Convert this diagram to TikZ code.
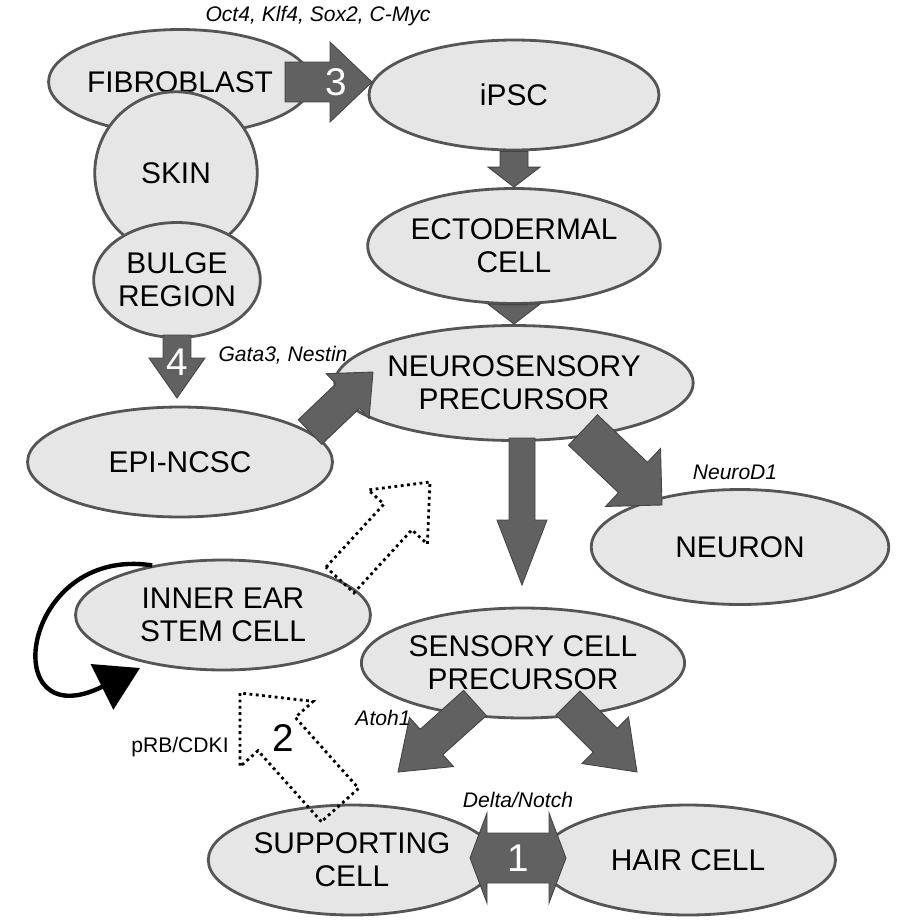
\documentclass[tikz,border=0pt]{standalone}
\usepackage{fontspec}
\setmainfont{Liberation Sans}
\usetikzlibrary{shapes.geometric}
\usetikzlibrary{calc}
\usetikzlibrary{arrows.meta}

\definecolor{cellfill}{HTML}{E6E6E6}
\definecolor{cellline}{HTML}{555555}
\definecolor{arrowfill}{HTML}{616161}

\tikzset{
  cell/.style={draw=cellline, line width=1.6pt, fill=cellfill, ellipse, inner sep=0pt,
    align=center, font=\fontsize{17}{19}\selectfont},
  fat/.style={draw=arrowfill!70!black, line width=0.5pt, fill=arrowfill},
  hollow/.style={draw=black, line width=1.6pt, dotted, fill=none},
  gene/.style={font=\fontsize{12}{14}\selectfont\itshape},
  num/.style={font=\fontsize{22}{24}\selectfont},
}

% fat arrow: [style]{from}{to}{shaft half}{head half}{head length}
\newcommand\fatarrow[6][fat]{
\coordinate (fh) at ($(#3)!#6!(#2)$);
\path[#1] ($(#2)!#4!90:(#3)$) -- ($(fh)!#4!-90:(#2)$) -- ($(fh)!#5!-90:(#2)$) -- (#3)
  -- ($(fh)!#5!90:(#2)$) -- ($(fh)!#4!90:(#2)$) -- ($(#2)!#4!-90:(#3)$) -- cycle;
}
% double arrow: {from}{to}{shaft half}{head half}{head length}
\newcommand\fatdouble[5]{
\coordinate (fa) at ($(#1)!#5!(#2)$);
\coordinate (fb) at ($(#2)!#5!(#1)$);
\path[fat] (#1) -- ($(fa)!#4!90:(#2)$) -- ($(fa)!#3!90:(#2)$) -- ($(fb)!#3!-90:(#1)$)
  -- ($(fb)!#4!-90:(#1)$) -- (#2) -- ($(fb)!#4!90:(#1)$) -- ($(fb)!#3!90:(#1)$)
  -- ($(fa)!#3!-90:(#2)$) -- ($(fa)!#4!-90:(#2)$) -- cycle;
}

\begin{document}
\begin{tikzpicture}[x=0.02cm, y=-0.02cm]
\useasboundingbox (0,0) rectangle (896,923);

% cells
\node[cell, minimum width=4.2cm, minimum height=2.1cm] (fibro) at (180,82) {FIBROBLAST};
\node[cell, circle, minimum size=3.25cm] (skin) at (176,173) {SKIN};
\node[cell, minimum width=3.3cm, minimum height=2.3cm] (bulge) at (177,280) {BULGE\\REGION};
\node[cell, minimum width=5.8cm, minimum height=2.2cm] (ipsc) at (514,95) {iPSC};
\node[cell, minimum width=5.8cm, minimum height=2.3cm] (ecto) at (514,246) {ECTODERMAL\\CELL};
\node[cell, minimum width=5.9cm, minimum height=2.3cm] (neuro) at (514,383) {NEUROSENSORY\\PRECURSOR};
\node[cell, minimum width=6.1cm, minimum height=2.2cm] (epi) at (180,462) {EPI-NCSC};
\node[cell, minimum width=5.95cm, minimum height=2.3cm] (neuron) at (740,547) {NEURON};
\node[cell, minimum width=5.9cm, minimum height=2.2cm] (inner) at (223,615) {INNER EAR\\STEM CELL};
\node[cell, minimum width=6.1cm, minimum height=2.2cm] (sens) at (523,663) {SENSORY CELL\\PRECURSOR};
\node[cell, minimum width=5.75cm, minimum height=2.2cm] (supp) at (352,860) {SUPPORTING\\CELL};
\node[cell, minimum width=5.9cm, minimum height=2.2cm] (hair) at (688,860) {HAIR CELL};

% arrow ends
\coordinate (a3s) at (285,82);  \coordinate (a3e) at (372,82);
\coordinate (a4s) at (177,335); \coordinate (a4e) at (177,398);
\coordinate (ens) at (310,432); \coordinate (ene) at (373,372);
\coordinate (nss) at (522,438); \coordinate (nse) at (522,585);
\coordinate (nns) at (583,430); \coordinate (nne) at (662,505);
\coordinate (sus) at (475,703); \coordinate (sue) at (398,772);
\coordinate (shs) at (568,703); \coordinate (she) at (637,772);
\coordinate (ies) at (340,580); \coordinate (iee) at (430,482);
\coordinate (sis) at (340,805); \coordinate (sie) at (240,693);
\coordinate (d1s) at (470,858); \coordinate (d1e) at (566,858);
\coordinate (loop) at (140,668);

\fatarrow{a3s}{a3e}{0.4cm}{0.8cm}{0.84cm}
\fatarrow{ipsc.south}{ecto.north}{0.28cm}{0.52cm}{0.4cm}
\fatarrow{ecto.south}{neuro.north}{0.28cm}{0.52cm}{0.4cm}
\fatarrow{a4s}{a4e}{0.28cm}{0.56cm}{0.8cm}
\fatarrow{ens}{ene}{0.34cm}{0.62cm}{0.7cm}
\fatarrow{nss}{nse}{0.26cm}{0.5cm}{1.3cm}
\fatarrow{nns}{nne}{0.42cm}{0.8cm}{0.8cm}
\fatarrow{sus}{sue}{0.34cm}{0.66cm}{0.9cm}
\fatarrow{shs}{she}{0.34cm}{0.66cm}{0.9cm}
\fatarrow[hollow]{ies}{iee}{0.38cm}{0.8cm}{0.95cm}
\fatarrow[hollow]{sis}{sie}{0.5cm}{0.98cm}{1.1cm}
\fatdouble{d1s}{d1e}{0.5cm}{0.9cm}{0.34cm}

% self renewal
\draw[line width=2.5pt, -{Triangle[length=0.85cm, width=1cm]}]
  (inner.145) .. controls (20,545) and (-5,740) .. (loop);

% numbers
\node[num, text=white] (n3) at (336,82) {3};
\node[num, text=white] (n4) at (177,362) {4};
\node[num] (n2) at (283,738) {2};
\node[num, text=white] (n1) at (518,858) {1};

% labels
\node[gene] (l3) at (318,16) {Oct4, Klf4, Sox2, C-Myc};
\node[gene] (l4) at (283,355) {Gata3, Nestin};
\node[gene] (lnd) at (735,472) {NeuroD1};
\node[gene] (lat) at (383,718) {Atoh1};
\node[font=\fontsize{12}{14}\selectfont] (lrb) at (180,747) {pRB/CDKI};
\node[gene] (ldn) at (518,800) {Delta/Notch};
\end{tikzpicture}
\end{document}
